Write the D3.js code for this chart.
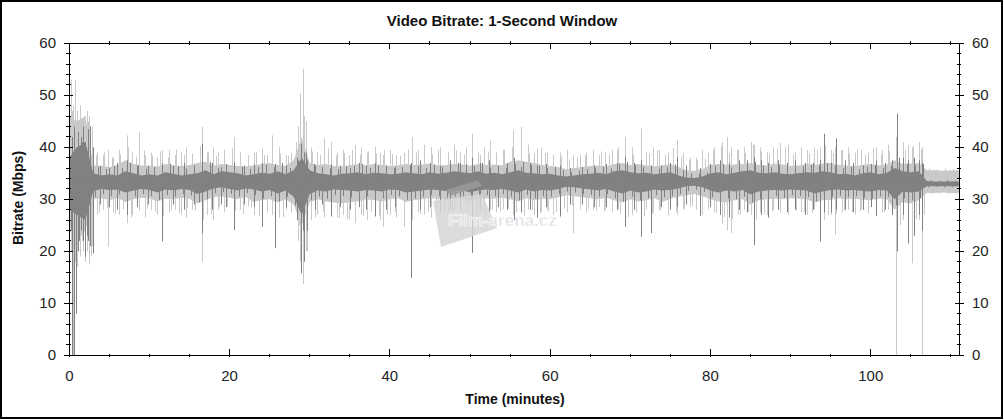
<!DOCTYPE html>
<html><head><meta charset="utf-8">
<script src="https://cdn.jsdelivr.net/npm/d3@7"></script>
<style>html,body{margin:0;padding:0;background:#fff;}svg{display:block;}</style>
</head><body>
<svg id="chart" width="1004" height="420"></svg>
<script>
// ---- data (Mbps), band values per minute (t = 0..111) ----
const lightHi = [
46,45,46,36.5,36.4,36.2,36.6,37.5,36.8,36.5,
36.4,36.3,36.8,36.5,36.4,36.6,37,37.2,36.5,36.8,
36.6,36.4,36.3,36.5,36.8,37,36.6,36.4,37.5,42,
37,36.6,36.8,36.4,36.3,36.6,36.8,36.5,36.8,36.6,
36.4,36.5,36.8,36.6,36.7,36.9,36.5,36.6,36.8,36.7,
36.5,36.8,36.6,36.7,36.5,37.2,37.5,37.2,37,36.6,
36.4,36.2,35.8,36,36.2,36.4,36.5,36.3,36.8,37,
36.6,36.8,36.5,36.3,36.5,36.8,36.2,35.6,35.5,35.8,
36.6,36.8,36.6,36.7,36.8,37,36.6,36.5,36.9,36.7,
36.4,36.5,36.8,36.6,36.9,37,36.6,36.5,36.4,36.6,
36.8,36.5,36.7,37.5,36.8,36.9,37,35.6,35.6,35.5,
35.6,35.6];
const lightLo = [
24,22,24,30,30.2,29.8,30.3,29.5,30,30.3,
30.2,29.6,30.1,30,30.3,30.1,29.2,29.8,30.4,30.6,
30.3,30,30.5,29.5,29.8,30,29.4,30,29,25,
29.5,30,29.6,29.4,29.2,29.5,29.6,30,29.8,29.6,
30,30.2,29.5,29.8,30,30.2,30.1,29.8,30,30.1,
29.6,30,30.2,30.1,30.3,30,29.6,30.2,29.8,30.1,
30,30.4,30.8,30.6,30.4,30.2,30,30.3,29.8,29.4,
30,29.6,29.8,30.2,29.5,30.1,30.5,30.8,31,30.6,
30,29.6,29.4,29.8,30,29,29.8,30,30.1,30,
30.2,30.1,30,29.4,29.8,29.9,30.2,30,30.1,29.9,
29.8,30.1,30,28,29.5,29.2,29.8,31.2,31.2,31.3,
31.2,31.2];
const darkHi = [
38,40,41,35,34.6,34.8,34.6,35.4,35,34.6,
34.8,34.6,35.2,34.9,34.6,34.8,35,35.6,34.8,35.4,
35.2,35,34.6,34.8,35.1,34.9,35.4,34.8,35.6,38,
35.6,35,34.8,34.6,34.9,35,35.2,34.8,35.1,35,
34.8,34.9,35.2,35,34.8,35.2,34.9,35.1,35.4,35.2,
35,35.4,34.9,35.1,34.8,35.2,35.6,35.1,35,34.8,
34.9,34.6,34.4,34.6,34.8,34.9,35.1,34.8,35.4,35.6,
35.2,35,35.1,34.8,35,35.2,34.6,34.2,34.1,34.4,
35,35.2,34.8,35.1,35.4,35.6,35.1,35,35.2,34.9,
34.8,35,35.2,35.1,35.4,35.2,34.8,34.9,34.6,35,
35.2,34.8,35.1,36,35.4,35.2,35.4,33.5,33.4,33.4,
33.4,33.4];
const darkLo = [
28,27,26,31.6,32,31.8,31.9,31.3,31.7,32,
31.8,31.3,31.9,31.7,32,31.8,31,31.5,32.1,32.3,
32,31.7,32.1,31.9,31.5,31.8,31.1,31.7,30.5,27,
31,31.7,31.5,31.9,31.8,31.7,31.5,31.8,31.7,31.5,
31.9,31.8,31.3,31.5,31.7,31.9,31.8,31.6,31.7,31.8,
31.3,31.7,31.9,31.8,32,31.7,31.3,31.9,31.5,31.8,
31.7,32,32.4,32.3,32.1,31.9,31.7,32,31.5,31.1,
31.7,31.3,31.5,31.9,31.7,31.8,32.1,32.5,32.6,32.3,
31.7,31.3,31.7,31.5,31.8,30.9,31.5,31.7,31.8,31.7,
31.9,31.8,31.7,31.1,31.5,31.8,31.9,31.7,31.8,31.6,
31.5,31.8,31.7,30,31.5,31.3,31.5,32.5,32.5,32.5,
32.5,32.5];

// ---- per-minute hair tips (short one-sided excursions), t = 0..111 ----
const lightHairUp = [
47,44,45,38.5,39,38,38.6,40,38.2,39.4,
38.4,39.2,38,39.6,38.5,38.8,40.2,39,38.3,39.5,
39.8,38.6,38.2,39,38.5,40.5,38.8,38.4,41,46,
39.2,38.5,39.8,38.4,38.9,39.5,38.6,39.2,38.8,39.5,
38.7,38.4,39.6,39,39.3,38.6,40,38.8,39.4,38.6,
39.8,38.5,39.2,38.7,39.5,40,39.6,38.8,39.8,38.9,
38.5,38.2,37.6,38,38.4,38.8,39.2,38.6,39.5,40.2,
38.6,39.8,38.8,39.4,38.5,39.9,38.2,37.6,37.5,37.8,
39.5,40.2,38.8,39.6,38.9,40.5,39.2,38.7,39.8,40,
38.6,39.2,38.8,39.5,40.3,38.9,39.4,38.7,39.6,38.5,
39.8,38.6,39.3,41,39.5,40.2,39.6,35.9,35.8,35.9,
35.8,35.9];
const lightHairDown = [
18,20,19,27.5,28.3,27.2,28,26.5,27.8,28.2,
27.6,26.8,28,27.4,28.4,27.8,26,27,28.5,28.6,
27.8,27.2,28.4,26.8,27.5,27.9,26.6,27.7,25,20,
26.5,27.6,27,26.4,26.2,27,26.8,27.5,26.9,27,
27.5,27.9,26.6,27.2,27.6,28,27.5,27.1,27.6,27.8,
27,27.6,28,27.7,28.2,27.5,26.8,27.9,27.3,27.7,
27.6,28.2,28.8,28.5,28.2,27.8,27.6,28,27.2,26.6,
27.5,26.8,27.2,27.8,26.9,27.6,28.2,28.8,29,28.6,
27.4,26.6,26.2,27,27.6,26,27.2,27.6,27.8,27.5,
27.8,27.6,27.4,26.4,27,27.2,27.8,27.5,27.7,27.3,
27,27.6,27.4,25,26.8,26.2,27,31,31.1,31,
31.1,31];
const darkHairUp = [
42,41,43,36.2,35.8,36.4,36,37,36.5,35.9,
36.2,35.8,36.8,36.3,35.9,36.1,36.9,37.2,36,36.8,
36.6,36.3,35.8,36.2,36.7,36.2,37,36,37.5,39,
36.8,36.2,36,35.8,36.3,36.4,36.8,36,36.5,36.3,
36,36.2,36.6,36.4,36,36.7,36.2,36.5,37,36.8,
36.4,37,36.1,36.5,36,36.8,37.2,36.6,36.4,36,
36.2,35.6,35.2,35.5,35.8,36,36.3,35.9,36.8,37.2,
36.6,36.2,36.5,35.9,36.2,36.7,35.6,35,34.9,35.2,
36.4,36.8,36.1,36.5,37,37.2,36.5,36.2,36.6,36.1,
36,36.3,36.7,36.5,37,36.6,36,36.2,35.8,36.3,
36.6,36,36.4,38,36.8,36.5,36.8,33.7,33.6,33.7,
33.6,33.7];
const darkHairDown = [
24,22,23,30.5,31,30.6,30.9,29.8,30.5,31,
30.6,29.8,30.8,30.5,31,30.7,29.4,30,31.2,31.4,
31,30.5,31.2,30.8,30.2,30.6,29.6,30.5,28.8,24,
29.8,30.5,30.1,30.8,30.6,30.4,30.2,30.6,30.5,30.2,
30.8,30.6,29.9,30.2,30.5,30.8,30.6,30.3,30.5,30.6,
29.9,30.5,30.8,30.6,31,30.5,29.8,30.8,30.2,30.6,
30.5,31,31.5,31.3,31,30.8,30.5,31,30.2,29.6,
30.5,29.8,30.2,30.8,30.4,30.6,31,31.6,31.8,31.4,
30.4,29.8,30.2,30,30.5,29.4,30,30.4,30.6,30.3,
30.8,30.6,30.4,29.6,30.1,30.5,30.7,30.4,30.6,30.3,
30.2,30.6,30.4,28.8,30.2,29.8,30.2,32.3,32.4,32.3,
32.4,32.3];

// ---- individual spikes: time (min), top (Mbps), bottom (Mbps) ----
const lightSpikeT  = [0.15,0.42,0.7,1.0,1.3,1.6,1.9,2.2,2.5,2.8,3.5,4.2,4.8,5.5,6.2,7.2,7.8,8.7,9.4,10.2,10.9,11.6,12.5,13.2,13.9,14.6,15.3,16.5,17.2,17.9,18.6,19.3,20.5,21.3,22.3,23.0,24.1,24.7,25.3,26.2,27.0,27.7,28.5,28.8,29.1,29.5,30.2,30.9,31.8,32.6,33.4,34.2,34.9,35.6,36.4,37.2,38.1,38.8,39.2,40.0,40.8,41.7,42.7,43.5,44.3,45.1,46.0,47.3,48.0,48.8,49.5,50.2,51.0,51.8,52.5,53.3,54.1,55.4,56.4,57.2,58.0,58.8,59.6,60.4,61.2,62.1,62.9,63.7,64.5,65.3,66.1,66.9,67.7,68.5,69.4,70.2,71.3,72.0,72.8,73.6,74.7,75.8,76.6,77.4,78.2,78.9,79.7,80.5,81.4,82.1,82.6,83.4,84.2,85.0,85.4,86.2,87.0,87.8,88.7,89.7,90.5,91.3,92.1,92.9,93.7,94.2,95.0,95.5,96.4,97.2,98.0,98.8,99.6,100.6,101.4,102.2,103.2,104.0,104.7,105.2,106.0,106.45];
const lightSpikeHi = [53,48,52.9,47,48,45,46,47,46,44,39,38.5,39.5,38,39.5,42.3,39,42.9,38.5,39,38,39.5,39.5,38.5,39,40,38.5,43.9,39,40,39,39.5,42,39,38.5,39,39.8,38.5,42.3,40,38.5,39,44,50.3,55.1,45,40,39,41.7,41,39,39.5,38.5,40.4,40,39,40.1,39,38.5,39.5,38.5,39,42,39.5,40.5,40,39.5,39,40.5,39,40,42.6,39,40,41.3,39,39.5,43.3,43.9,40.5,39,40,39,38.5,39,39.5,38.5,38.5,39,39.5,38.5,39,39.5,40,42,40,43.6,39,40,39.5,39,41.4,39,38,38,39.5,39,40,41,42,40,39.5,40,41,40.5,40,39,40,40.8,40.5,39,40,39.5,40,40,41,39.5,40,39.5,40,39,39.5,39,40,39.5,40.5,42,41,40.5,40,41,40];
const lightSpikeLo = [20,0,18,17,19,22,18,20,17.5,21,27,28,20.9,27.5,27,25.4,27,28,26.5,28,27,26,27.5,28,27,26.5,28,18,27,26,28,27.5,27,28,28.6,27,26,27.5,27,26.5,28,27.5,22,18,13.7,20,26,27,26.5,27,26.5,27,26,25.4,27,26,27,26,24.7,27,26.5,24.7,26,27.5,27,26.5,27,27,28,27,27.5,26,28,27,28,27.5,28,27,27.5,28,27,27.5,28,27,26.5,27.5,23.5,28,27.5,28,28.5,28,27.5,28,26,27,27,28,27.5,28,27.3,27,28,28.5,28,27,28,27.5,25.3,24,23.5,27,28,27,26,27.5,27,28,27.5,27,28,27.5,27,28,24.7,26,27,23.2,27.5,28,27,28,27.5,27,27.5,28,0,26,21.5,17.7,26,0];

const darkSpikeT  = [0.3,0.55,0.8,1.1,1.4,1.7,2.0,2.3,2.6,2.9,3.8,5.0,6.0,7.2,8.5,9.8,11.6,13.0,14.3,15.5,16.5,17.8,18.9,19.5,20.5,21.8,23.0,24.1,25.7,27.0,28.4,28.9,29.3,29.7,30.6,31.5,32.6,33.8,35.0,36.2,37.0,38.1,39.5,40.6,42.6,43.8,45.0,46.3,47.5,48.7,50.2,51.3,52.4,53.5,54.6,55.5,56.4,57.5,58.3,59.5,61.2,62.5,64.0,65.5,67.0,68.3,69.4,70.5,71.3,72.6,73.8,75.0,75.8,77.0,78.7,80.0,81.2,82.3,83.5,84.5,85.4,86.3,87.2,88.4,89.5,90.6,91.8,92.8,93.7,94.2,95.0,95.7,96.8,97.8,99.0,100.0,100.6,101.8,102.6,103.3,104.0,104.7,105.4,106.0,106.4];
const darkSpikeHi = [42,44,40,43,42,44,41,43.5,44,40,36.5,36,37,37.5,36.5,36.5,37,36.5,37,36.5,40.7,37,36.2,36.5,37,36.5,36.8,37,36.8,36.5,38,40.7,39,37.5,36.5,36.2,36.8,36.5,36,37,36.5,37,36.5,36.2,37,37.5,37,36.5,37.5,37,38,37,37.5,36.5,37,38,36.2,37,36.5,36.8,36.5,36,36.2,36.5,36.8,37,38.2,37,37.5,36.5,36.5,37,38,36.5,36,36.8,37.5,37,37.5,37.5,38,37.5,37,37.5,37,37.5,37,37,37.5,42.6,37,41.7,37.5,37,36.5,36.8,37.5,37,37.5,46.5,38,37.5,38,37.5,37];
const darkSpikeLo = [0,0,8,20,24,22,19,22,21,19.6,29,28.5,28,27,28.5,29,21.9,29,28,29,23.5,28,29,28.5,24.1,29,28.5,24.7,20.6,28.5,26,15.8,18,24,28,29,26.7,28.5,28,28.5,28,26.7,28,28.5,14.9,28,28.5,27.5,28,28.5,19.7,28,27.5,28.5,28,26,27.5,28,26.5,28.5,26.8,29,29,28.5,28.5,28,24.7,28,22.8,23.5,28.5,28,28.5,29,26.8,28.5,27,26.5,28,27.5,21.2,27,26.5,28,27.5,28,27,28,21.9,27.5,27.5,28,28,27.5,28,28.5,26.8,28,27,20,27,21.5,23,27,24];

const xTickLabels = [0,20,40,60,80,100];
const yTickLabels = [0,10,20,30,40,50,60];
const tMax = 111.1;

// ---- drawing ----
const svg = d3.select("#chart");
const W = 1004, H = 420;
const x = d3.scaleLinear().domain([0, tMax]).range([69.3, 959.7]);
const y = d3.scaleLinear().domain([0, 60]).range([355.3, 43.3]);
const LIGHT = "#c9c9c9", DARK = "#818181";
const FONT = "Arial, 'Liberation Sans', Helvetica, sans-serif";

svg.append("rect").attr("width", W).attr("height", H).attr("fill", "#fff");

const minutes = d3.range(lightHi.length);
const mid = i => (darkHi[i] + darkLo[i]) / 2;
const lightArea = d3.area().x(i => x(i)).y0(i => y(lightLo[i])).y1(i => y(lightHi[i]));
const darkArea = d3.area().x(i => x(i)).y0(i => y(darkLo[i])).y1(i => y(darkHi[i]));

function hairs(g, arr, offset, color) {
  g.selectAll(null).data(minutes.filter(i => i + offset <= tMax)).join("line")
    .attr("x1", i => Math.round(x(i + offset)) + 0.5).attr("x2", i => Math.round(x(i + offset)) + 0.5)
    .attr("y1", i => y(mid(i))).attr("y2", i => y(arr[i]))
    .attr("stroke", color).attr("stroke-width", 1);
}
function spikes(g, T, Hi, Lo, color) {
  g.selectAll(null).data(T).join("line")
    .attr("x1", t => Math.round(x(t)) + 0.5).attr("x2", t => Math.round(x(t)) + 0.5)
    .attr("y1", (t, i) => y(Hi[i])).attr("y2", (t, i) => y(Lo[i]))
    .attr("stroke", color).attr("stroke-width", 1);
}

const plot = svg.append("g");
plot.append("path").datum(minutes).attr("d", lightArea).attr("fill", LIGHT);
hairs(plot.append("g"), lightHairUp, 0.3, LIGHT);
hairs(plot.append("g"), lightHairDown, 0.7, LIGHT);
spikes(plot.append("g"), lightSpikeT, lightSpikeHi, lightSpikeLo, LIGHT);
plot.append("path").datum(minutes).attr("d", darkArea).attr("fill", DARK);
hairs(plot.append("g"), darkHairUp, 0.55, DARK);
hairs(plot.append("g"), darkHairDown, 0.15, DARK);
spikes(plot.append("g"), darkSpikeT, darkSpikeHi, darkSpikeLo, DARK);

// watermark
const wm = svg.append("g").attr("opacity", 0.85);
wm.append("path").attr("d", "M433,201 L482,194 L497,228 L441,247 Z").attr("fill", "#d6d6d6");
wm.append("path").attr("d", "M446,190 L478,180 L482,186 L450,196 Z").attr("fill", "#9a9a9a");
wm.append("text").attr("x", 448).attr("y", 226).attr("font-family", FONT).attr("font-weight", "bold")
  .attr("font-size", 17).attr("fill", "#d9d9d9").attr("stroke", "#fff").attr("stroke-width", 0.6)
  .text("Film-arena.cz");

// axes
const ax = svg.append("g").attr("stroke", "#000").attr("stroke-width", 1).attr("shape-rendering", "crispEdges");
const X0 = x(0), X1 = x(tMax), Y0 = y(0), Y1 = y(60);
ax.append("rect").attr("x", X0).attr("y", Y1).attr("width", X1 - X0).attr("height", Y0 - Y1).attr("fill", "none");

const xMinor = d3.range(0, tMax, 5);
const yMinor = d3.range(0, 60.1, 2);
ax.selectAll("line.xb").data(xMinor).join("line")
  .attr("x1", d => x(d)).attr("x2", d => x(d))
  .attr("y1", d => d % 20 === 0 ? Y0 - 6 : Y0 - 1).attr("y2", d => Y0 + 2);
ax.selectAll("line.xt").data(xMinor).join("line")
  .attr("x1", d => x(d)).attr("x2", d => x(d))
  .attr("y1", d => d % 20 === 0 ? Y1 : Y1 - 2).attr("y2", d => d % 20 === 0 ? Y1 + 6 : Y1 + 2);
ax.selectAll("line.yl").data(yMinor).join("line")
  .attr("y1", d => y(d)).attr("y2", d => y(d))
  .attr("x1", d => d % 10 === 0 ? X0 - 5 : X0 - 3).attr("x2", d => d % 10 === 0 ? X0 + 4 : X0 + 2);
ax.selectAll("line.yr").data(yMinor).join("line")
  .attr("y1", d => y(d)).attr("y2", d => y(d))
  .attr("x1", d => d % 10 === 0 ? X1 - 5 : X1 - 3).attr("x2", d => d % 10 === 0 ? X1 + 4 : X1 + 1);

const lab = svg.append("g").attr("font-family", FONT).attr("font-size", 15).attr("fill", "#222");
lab.selectAll("text.xl").data(xTickLabels).join("text")
  .attr("x", d => x(d)).attr("y", 381).attr("text-anchor", "middle").text(d => d);
lab.selectAll("text.yl").data(yTickLabels).join("text")
  .attr("x", 56).attr("y", d => y(d) + 5).attr("text-anchor", "end").text(d => d);
lab.selectAll("text.yr").data(yTickLabels).join("text")
  .attr("x", 972).attr("y", d => y(d) + 5).attr("text-anchor", "start").text(d => d);

svg.append("text").attr("x", 502).attr("y", 26).attr("text-anchor", "middle")
  .attr("font-family", FONT).attr("font-weight", "bold").attr("font-size", 15).attr("fill", "#111")
  .text("Video Bitrate: 1-Second Window");
svg.append("text").attr("x", 515).attr("y", 404).attr("text-anchor", "middle")
  .attr("font-family", FONT).attr("font-weight", "bold").attr("font-size", 14).attr("fill", "#111")
  .text("Time (minutes)");
svg.append("text").attr("transform", "translate(23,198) rotate(-90)").attr("text-anchor", "middle")
  .attr("font-family", FONT).attr("font-weight", "bold").attr("font-size", 14).attr("fill", "#111")
  .text("Bitrate (Mbps)");

svg.append("rect").attr("x", 1).attr("y", 1).attr("width", 1001).attr("height", 417)
  .attr("fill", "none").attr("stroke", "#000").attr("stroke-width", 2);
</script>
</body></html>
